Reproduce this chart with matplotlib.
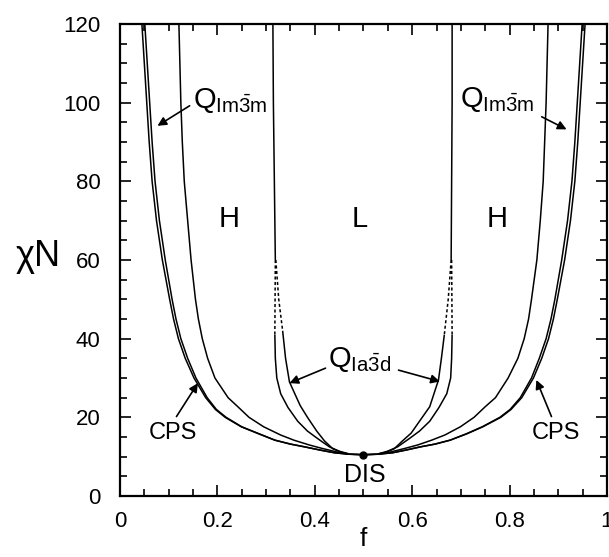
import matplotlib
matplotlib.use("Agg")
import matplotlib.pyplot as plt
from matplotlib.ticker import MultipleLocator, FixedLocator

plt.rcParams["font.family"] = ["Liberation Sans", "DejaVu Sans"]
plt.rcParams["mathtext.fontset"] = "custom"
plt.rcParams["mathtext.rm"] = "Liberation Sans"
plt.rcParams["mathtext.it"] = "Liberation Sans"

# phase boundaries: (f, chiN)
odt_f = [0.045, 0.050, 0.055, 0.060, 0.066, 0.075, 0.087, 0.102, 0.110, 0.120, 0.134, 0.152, 0.176, 0.196,
         0.216, 0.249, 0.285, 0.318, 0.350, 0.379, 0.410, 0.440, 0.470, 0.500,
         0.530, 0.560, 0.588, 0.617, 0.647, 0.678, 0.712, 0.745, 0.782, 0.803, 0.825, 0.849,
         0.866, 0.880, 0.890, 0.898, 0.913, 0.925, 0.934, 0.940, 0.945, 0.950, 0.955]
odt_chin = [120, 110, 100, 90, 80, 70, 60, 50, 45, 40, 35, 30, 25, 22,
            20, 17.6, 15.8, 14.2, 13.2, 12.5, 11.7, 11.0, 10.62, 10.5,
            10.62, 11.0, 11.7, 12.5, 13.2, 14.2, 15.8, 17.6, 20, 22, 25, 30,
            35, 40, 45, 50, 60, 70, 80, 90, 100, 110, 120]

cps_f = [0.051, 0.056, 0.061, 0.066, 0.072, 0.081, 0.093, 0.107, 0.115, 0.125, 0.139, 0.156, 0.179, 0.198,
         0.218, 0.250, 0.286, 0.318, 0.350, 0.379, 0.410, 0.440, 0.470, 0.500,
         0.530, 0.560, 0.588, 0.617, 0.647, 0.678, 0.711, 0.744, 0.780, 0.801, 0.822, 0.845,
         0.861, 0.875, 0.885, 0.893, 0.907, 0.919, 0.928, 0.934, 0.939, 0.944, 0.949]
cps_chin = odt_chin

hex_f = [0.121, 0.123, 0.125, 0.128, 0.132, 0.139, 0.146, 0.155, 0.161, 0.169, 0.180, 0.195, 0.222, 0.242,
         0.265, 0.295, 0.330, 0.357, 0.388, 0.415, 0.445, 0.470, 0.500,
         0.530, 0.556, 0.585, 0.612, 0.640, 0.667, 0.699, 0.727, 0.750, 0.771, 0.797, 0.817,
         0.830, 0.839, 0.845, 0.856, 0.863, 0.869, 0.872, 0.875, 0.877, 0.879]
hex_chin = [120, 110, 100, 90, 80, 70, 60, 50, 45, 40, 35, 30, 25, 22.7,
            20, 17.6, 15.5, 14.2, 13.0, 12.1, 11.2, 10.65, 10.5,
            10.65, 11.2, 12.1, 13.0, 14.2, 15.5, 17.6, 20, 22.7, 25, 30, 35,
            40, 45, 50, 60, 70, 80, 90, 100, 110, 120]

# lamellar / hexagonal boundary above the gyroid window
hl_left_f = [0.314, 0.315, 0.317, 0.319]
hl_right_f = [0.682, 0.682, 0.681, 0.680]
hl_chin = [120, 100, 80, 60]

# gyroid boundaries, dashed part (extrapolated)
hg_dash_left_f = [0.319, 0.318]
hg_dash_left_chin = [60, 41]
gl_dash_left_f = [0.320, 0.326, 0.334]
gl_dash_left_chin = [60, 50, 42]
gl_dash_right_f = [0.680, 0.674, 0.666]
gl_dash_right_chin = [60, 50, 41]
hg_dash_right_f = [0.681, 0.682]
hg_dash_right_chin = [60, 41]

# gyroid boundaries, solid part
hg_left_f = [0.318, 0.319, 0.322, 0.330, 0.345, 0.365, 0.385, 0.407, 0.430, 0.450, 0.470]
hg_left_chin = [41, 35, 30, 26, 22.5, 19, 16.5, 14.5, 12.5, 11.4, 10.7]
gl_left_f = [0.334, 0.340, 0.348, 0.370, 0.385, 0.404, 0.420, 0.437, 0.455, 0.470]
gl_left_chin = [42, 35, 29, 23, 20, 16.5, 14, 12, 11.1, 10.7]
gl_right_f = [0.666, 0.660, 0.654, 0.636, 0.615, 0.598, 0.580, 0.563, 0.545, 0.530]
gl_right_chin = [41, 35, 29.5, 22.7, 19, 16, 14, 12, 11.1, 10.7]
hg_right_f = [0.682, 0.681, 0.679, 0.671, 0.655, 0.636, 0.615, 0.593, 0.570, 0.550, 0.530]
hg_right_chin = [41, 35, 30, 26, 22.5, 19, 16.5, 14.5, 12.5, 11.4, 10.7]

crit_f = [0.5]
crit_chin = [10.5]

x_ticks = [0, 0.2, 0.4, 0.6, 0.8, 1.0]
x_tick_labels = ["0", "0.2", "0.4", "0.6", "0.8", "1"]
y_ticks = [0, 20, 40, 60, 80, 100, 120]

fig = plt.figure(figsize=(6.09, 5.57), dpi=100)
ax = fig.add_axes([0.197, 0.1095, 0.7997, 0.8475])

lw = 1.1
for fx, cy in [(odt_f, odt_chin), (cps_f, cps_chin), (hex_f, hex_chin),
               (hl_left_f, hl_chin), (hl_right_f, hl_chin),
               (hg_left_f, hg_left_chin), (gl_left_f, gl_left_chin),
               (gl_right_f, gl_right_chin), (hg_right_f, hg_right_chin)]:
    ax.plot(fx, cy, color="k", lw=lw, solid_capstyle="butt", solid_joinstyle="round")

for fx, cy in [(hg_dash_left_f, hg_dash_left_chin), (gl_dash_left_f, gl_dash_left_chin),
               (gl_dash_right_f, gl_dash_right_chin), (hg_dash_right_f, hg_dash_right_chin)]:
    ax.plot(fx, cy, color="k", lw=lw, dashes=(2.0, 1.6))

ax.plot(crit_f, crit_chin, "o", color="k", ms=5)

ax.set_xlim(0, 1)
ax.set_ylim(0, 120)
ax.xaxis.set_major_locator(FixedLocator(x_ticks))
ax.set_xticklabels(x_tick_labels)
ax.xaxis.set_minor_locator(MultipleLocator(0.05))
ax.yaxis.set_major_locator(FixedLocator(y_ticks))
ax.yaxis.set_minor_locator(MultipleLocator(5))
ax.tick_params(which="both", direction="in", top=True, right=True, width=1.2, labelsize=16)
ax.tick_params(axis="x", pad=11)
ax.tick_params(axis="y", pad=14)
ax.tick_params(which="major", length=8)
ax.tick_params(which="minor", length=5)
for s in ax.spines.values():
    s.set_linewidth(1.6)

ax.set_xlabel("f", fontsize=19, labelpad=-4)
fig.text(0.062, 0.54, "\u03c7N", fontsize=26, ha="center", va="center")

# region labels
ax.text(0.225, 70.5, "H", fontsize=21, ha="center", va="center")
ax.text(0.493, 70.5, "L", fontsize=21, ha="center", va="center")
ax.text(0.775, 70.5, "H", fontsize=21, ha="center", va="center")
ax.text(0.503, 5.3, "DIS", fontsize=18, ha="center", va="center")
ax.text(0.109, 16.1, "CPS", fontsize=17, ha="center", va="center")
ax.text(0.896, 15.9, "CPS", fontsize=17, ha="center", va="center")

q_im = r"$\mathrm{Q}_{\mathrm{Im}\bar{3}\mathrm{m}}$"
q_ia = r"$\mathrm{Q}_{\mathrm{Ia}\bar{3}\mathrm{d}}$"
ax.text(0.150, 98.6, q_im, fontsize=21, ha="left", va="baseline")
ax.text(0.698, 98.8, q_im, fontsize=21, ha="left", va="baseline")
ax.text(0.428, 32.7, q_ia, fontsize=21, ha="left", va="baseline")

arrow = dict(arrowstyle="-|>", color="k", lw=1.2, mutation_scale=13, shrinkA=0, shrinkB=0)
ax.annotate("", xy=(0.077, 94.1), xytext=(0.143, 99.2), arrowprops=arrow)
ax.annotate("", xy=(0.917, 93.2), xytext=(0.866, 96.4), arrowprops=arrow)
ax.annotate("", xy=(0.348, 28.7), xytext=(0.422, 32.5), arrowprops=arrow)
ax.annotate("", xy=(0.657, 29.1), xytext=(0.572, 32.0), arrowprops=arrow)
ax.annotate("", xy=(0.160, 28.7), xytext=(0.116, 20.2), arrowprops=arrow)
ax.annotate("", xy=(0.855, 29.5), xytext=(0.886, 20.2), arrowprops=arrow)

fig.savefig("out.png", dpi=100)
